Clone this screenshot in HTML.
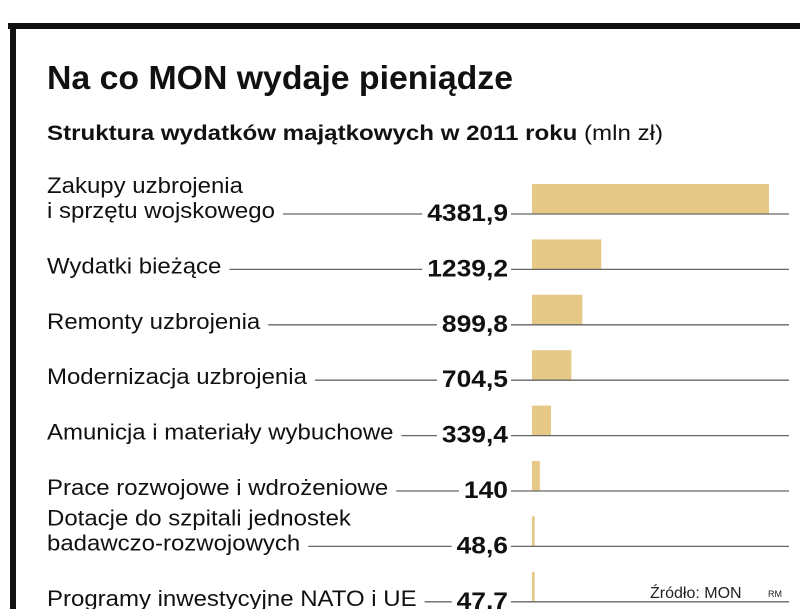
<!DOCTYPE html>
<html><head><meta charset="utf-8"><style>
body{margin:0;background:#fff;}
svg{display:block;font-family:"Liberation Sans",sans-serif;}
</style></head><body>
<svg id="c" width="805" height="609">
<rect x="8" y="23" width="792" height="6" fill="#111"/>
<rect x="10" y="23" width="6" height="586" fill="#111"/>
<text x="47" y="89" font-size="33" font-weight="bold" fill="#111" textLength="466" lengthAdjust="spacingAndGlyphs">Na co MON wydaje pieniądze</text>
<text x="47" y="140" font-size="21" font-weight="bold" fill="#111" textLength="616" lengthAdjust="spacingAndGlyphs">Struktura wydatków majątkowych w 2011 roku <tspan font-weight="normal">(mln zł)</tspan></text>
<text x="650" y="598" font-size="16" fill="#222">Źródło: MON</text>
<text x="768" y="597" font-size="9" fill="#222">RM</text>
<g id="rows"></g>
</svg>
<script>
const categories=[["Zakupy uzbrojenia","i sprzętu wojskowego"],["Wydatki bieżące"],["Remonty uzbrojenia"],["Modernizacja uzbrojenia"],["Amunicja i materiały wybuchowe"],["Prace rozwojowe i wdrożeniowe"],["Dotacje do szpitali jednostek","badawczo-rozwojowych"],["Programy inwestycyjne NATO i UE"]];
const values=[4381.9,1239.2,899.8,704.5,339.4,140,48.6,47.7];
const valueLabels=["4381,9","1239,2","899,8","704,5","339,4","140","48,6","47,7"];
const NS="http://www.w3.org/2000/svg";
const g=document.getElementById('rows');
const x0=532, pxPer=245/4381.9, lineEnd=789;
function xs(v){return v*pxPer;}
function ys(i){return 214+i*55.4;}
function mk(t,a){const e=document.createElementNS(NS,t);for(const k in a)e.setAttribute(k,a[k]);g.appendChild(e);return e;}
categories.forEach((lab,i)=>{
  const base=ys(i);
  const bh=30;
  const bar=mk('rect',{x:x0,y:base-bh,width:Math.max(2,Math.min(237,xs(values[i]))),height:bh,fill:'#e6c987'});
  
  
  let lastW=0;
  lab.forEach((l,j)=>{
    const t=mk('text',{x:47,y:base-(lab.length-1-j)*25+4,'font-size':22,fill:'#111'});
    t.textContent=l;
    
    
    const w=t.getComputedTextLength()*1.09;
    t.setAttribute('textLength',w);
    t.setAttribute('lengthAdjust','spacingAndGlyphs');
    if(j==lab.length-1)lastW=w;
  });
  const v=mk('text',{x:508,y:base+7,'font-size':24,'font-weight':'bold','text-anchor':'end',fill:'#111'});
  v.textContent=valueLabels[i];
  
  
  const vw=v.getComputedTextLength()*1.1;
  v.setAttribute('textLength',vw);
  v.setAttribute('lengthAdjust','spacingAndGlyphs');
  const l1=mk('line',{x1:47+lastW+8,x2:508-vw-5,y1:base,y2:base,stroke:'#666','stroke-width':1.3});
  
  
  const l2=mk('line',{x1:511,x2:lineEnd,y1:base,y2:base,stroke:'#666','stroke-width':1.3});
  
  
});
</script>
</body></html>
